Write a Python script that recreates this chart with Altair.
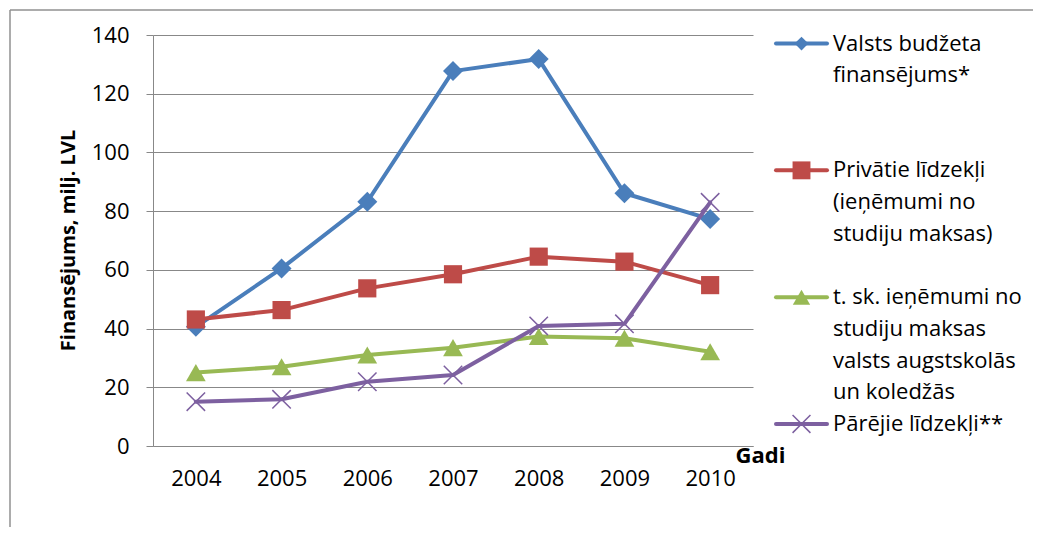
import altair as alt
import pandas as pd

# ---------------- data ----------------
years = ["2004", "2005", "2006", "2007", "2008", "2009", "2010"]

series_lines = [
    ["Valsts budžeta", "finansējums*"],
    ["Privātie līdzekļi", "(ieņēmumi no", "studiju maksas)"],
    ["t. sk. ieņēmumi no", "studiju maksas", "valsts augstskolās", "un koledžās"],
    ["Pārējie līdzekļi**"],
]
series_names = [" ".join(lines) for lines in series_lines]

valsts_budzets = [40.6, 60.5, 83.2, 127.7, 131.8, 86.1, 77.3]
privatie_lidzekli = [43.1, 46.3, 53.7, 58.5, 64.5, 62.8, 54.8]
t_sk_ienemumi = [25.0, 27.0, 31.0, 33.5, 37.3, 36.7, 32.1]
parejie_lidzekli = [15.1, 15.9, 21.9, 24.2, 40.9, 41.6, 83.0]
series_values = [valsts_budzets, privatie_lidzekli, t_sk_ienemumi, parejie_lidzekli]

y_ticks = [0, 20, 40, 60, 80, 100, 120, 140]
x_title = "Gadi"
y_title = "Finansējums, milj. LVL"

# ---------------- styles ----------------
colors = ["#4A7EBB", "#BE4B48", "#98B954", "#7D60A0"]
x_path = "M-1,-1L1,1M-1,1L1,-1"
shapes = ["diamond", "square", "triangle-up", x_path]
sizes = [400, 330, 390, 340]
legend_sizes = [190, 320, 300, 320]
FONT = "Open Sans"
GRID = "#888888"

# ---------------- main plot ----------------
x_enc = alt.X(
    "year:O",
    title=x_title,
    scale=alt.Scale(type="point", padding=0.5),
    axis=alt.Axis(
        labelAngle=0, ticks=False, grid=False, domainColor=GRID, domainWidth=1,
        labelFont=FONT, labelFontSize=22, labelColor="black", labelPadding=22,
        titleFont=FONT, titleFontSize=22, titleFontWeight="bold", titleColor="black",
        titleX=607, titleY=16, titleAlign="center", titleBaseline="alphabetic",
    ),
)
y_enc = alt.Y(
    "value:Q",
    title=y_title,
    scale=alt.Scale(domain=[0, 140], nice=False, zero=True),
    axis=alt.Axis(
        values=y_ticks, grid=True, gridColor=GRID, gridWidth=1,
        domainColor=GRID, domainWidth=1, tickColor=GRID, tickSize=7,
        labelFont=FONT, labelFontSize=22, labelColor="black", labelPadding=17,
        titleFont=FONT, titleFontSize=20, titleFontWeight="bold", titleColor="black",
        titleAngle=-90, titleX=-79, titleY=205, titleAlign="center",
        titleBaseline="alphabetic",
    ),
)

layers = []
frame_df = pd.DataFrame({"k": [0]})
layers.append(
    alt.Chart(frame_df).mark_rule(color="#909090", strokeWidth=1.5).encode(
        x=alt.value(-143), x2=alt.value(880), y=alt.value(-25)
    )
)
layers.append(
    alt.Chart(frame_df).mark_rule(color="#909090", strokeWidth=1.5).encode(
        x=alt.value(-143), y=alt.value(-25), y2=alt.value(492)
    )
)

for i, name in enumerate(series_names):
    df = pd.DataFrame({"year": years, "value": series_values[i], "series": name})
    line = alt.Chart(df).mark_line(
        color=colors[i], strokeWidth=4, strokeJoin="round", strokeCap="round"
    ).encode(x=x_enc, y=y_enc)
    if shapes[i] == x_path:
        pts = alt.Chart(df).mark_point(
            shape=shapes[i], filled=False, size=sizes[i], color=colors[i],
            strokeWidth=1.5, opacity=1,
        ).encode(x=x_enc, y=y_enc)
    else:
        pts = alt.Chart(df).mark_point(
            shape=shapes[i], filled=True, size=sizes[i], color=colors[i], opacity=1,
        ).encode(x=x_enc, y=y_enc)
    layers += [line, pts]

main = alt.layer(*layers).properties(width=600, height=411)

# ---------------- legend panel ----------------
sym_rows = []
txt_rows = []
for i, lines in enumerate(series_lines):
    sym_rows.append({"series": series_names[i], "slot": 4 * i})
    for j, t in enumerate(lines):
        txt_rows.append({"series": series_names[i], "slot": 4 * i + j, "text": t})
sym_df = pd.DataFrame(sym_rows)
txt_df = pd.DataFrame(txt_rows)

leg_y = alt.Y(
    "slot:Q",
    scale=alt.Scale(domain=[-0.27, 12.696], reverse=True, nice=False, zero=False),
    axis=None,
)

leg_layers = []
for i, name in enumerate(series_names):
    d = sym_df[sym_df["series"] == name]
    leg_layers.append(
        alt.Chart(d).mark_rule(color=colors[i], strokeWidth=4, strokeCap="round").encode(
            x=alt.value(2), x2=alt.value(53), y=leg_y
        )
    )
    if shapes[i] == x_path:
        leg_layers.append(
            alt.Chart(d).mark_point(
                shape=shapes[i], filled=False, size=legend_sizes[i], color=colors[i],
                strokeWidth=1.5, opacity=1,
            ).encode(x=alt.value(27.5), y=leg_y)
        )
    else:
        leg_layers.append(
            alt.Chart(d).mark_point(
                shape=shapes[i], filled=True, size=legend_sizes[i], color=colors[i], opacity=1,
            ).encode(x=alt.value(27.5), y=leg_y)
        )
leg_layers.append(
    alt.Chart(txt_df).mark_text(
        align="left", baseline="middle", font=FONT, fontSize=22, color="black"
    ).encode(x=alt.value(59), y=leg_y, text="text:N")
)
legend = alt.layer(*leg_layers).properties(width=200, height=411)

chart = alt.hconcat(main, legend, spacing=21, bounds="flush").properties(
    padding={"left": 1, "top": 1, "right": 1, "bottom": 1},
    background="white",
).configure_view(stroke="transparent", strokeWidth=0)

chart.save("out.html", embed_options={"renderer": "svg", "actions": False})
